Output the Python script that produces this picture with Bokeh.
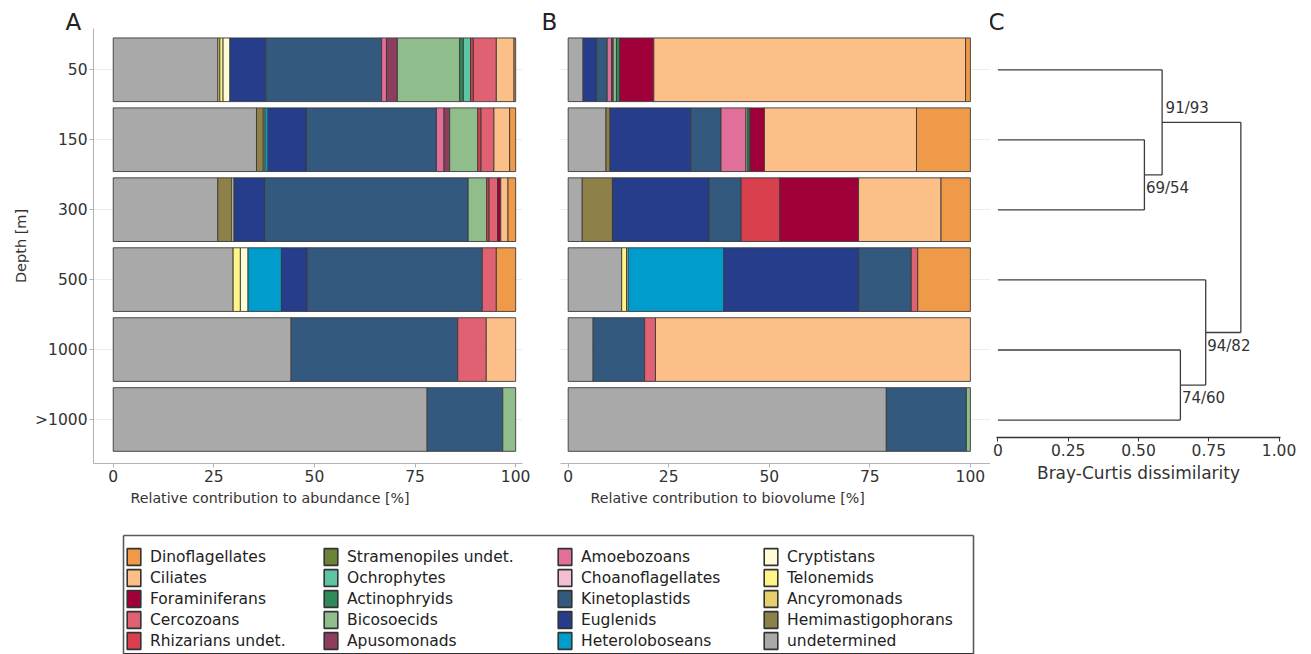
import numpy as np
from bokeh.plotting import figure
from bokeh.models import (ColumnDataSource, Range1d, FixedTicker, Legend,
                          LegendItem, LinearAxis, Grid, Title, Spacer)
from bokeh.layouts import column, row
from bokeh.embed import file_html
from bokeh.resources import INLINE
from bokeh.core.properties import value

# ---------------------------------------------------------------- data
depths = ["50", "150", "300", "500", "1000", ">1000"]

groups = ["Dinoflagellates", "Ciliates", "Foraminiferans", "Cercozoans",
          "Rhizarians undet.", "Stramenopiles undet.", "Ochrophytes",
          "Actinophryids", "Bicosoecids", "Apusomonads", "Amoebozoans",
          "Choanoflagellates", "Kinetoplastids", "Euglenids", "Heteroloboseans",
          "Cryptistans", "Telonemids", "Ancyromonads", "Hemimastigophorans",
          "undetermined"]

colors = ["#ef9a49", "#fbbf87", "#a0003a", "#e06172", "#d8404e",
          "#6b8336", "#5fc4a3", "#2e8a58", "#8fbd8b", "#8c3e5c",
          "#e0709a", "#f4bfd2", "#33597f", "#253d8a", "#009ccc",
          "#fffbd6", "#fff587", "#e7cf6d", "#8d8049", "#a9a9a9"]

# relative contribution to abundance [%], one list per depth, in `groups` order
abund_50 = [0.4, 4.4, 0, 5.7, 0.7, 0, 1.8, 0.9, 15.5, 2.7, 1.2, 0, 28.8, 8.9, 0, 1.7, 0.8, 0.5, 0, 26.0]
abund_150 = [1.5, 3.9, 0, 3.2, 0.8, 0, 0, 0, 7.0, 1.4, 1.9, 0, 32.3, 9.5, 0.8, 0, 0, 0.4, 1.7, 35.6]
abund_300 = [1.9, 1.8, 0.8, 2.1, 0.6, 0, 0, 0, 4.6, 0, 0, 0, 50.6, 7.6, 0, 0.5, 0, 0, 3.5, 26.0]
abund_500 = [4.8, 0, 0, 3.5, 0, 0, 0, 0, 0, 0, 0, 0, 43.5, 6.4, 8.3, 1.9, 1.8, 0, 0, 29.8]
abund_1000 = [0, 7.3, 0, 7.1, 0, 0, 0, 0, 0, 0, 0, 0, 41.4, 0, 0, 0, 0, 0, 0, 44.2]
abund_deep = [0, 0, 0, 0, 0, 0, 0, 0, 3.2, 0, 0, 0, 18.8, 0, 0, 0, 0, 0, 0, 78.0]

# relative contribution to biovolume [%]
biovol_50 = [1.2, 77.5, 8.5, 0, 0, 0, 0, 0.8, 0.8, 0.4, 1.1, 0, 2.7, 3.3, 0, 0, 0, 0, 0, 3.7]
biovol_150 = [13.4, 37.8, 3.6, 0, 0, 0, 0, 0.5, 0.5, 0, 6.2, 0, 7.5, 20.1, 0, 0, 0, 0, 1.0, 9.4]
biovol_300 = [7.3, 20.5, 19.6, 0, 9.6, 0, 0, 0, 0, 0, 0, 0, 8.0, 24.0, 0, 0, 0, 0, 7.5, 3.5]
biovol_500 = [13.1, 0, 0, 1.6, 0, 0, 0, 0, 0, 0, 0, 0, 13.1, 33.5, 23.8, 0.4, 1.2, 0, 0, 13.3]
biovol_1000 = [0, 78.3, 0, 2.7, 0, 0, 0, 0, 0, 0, 0, 0, 12.8, 0, 0, 0, 0, 0, 0, 6.2]
biovol_deep = [0, 0, 0, 0, 0, 0, 0, 0, 1.0, 0, 0, 0, 19.9, 0, 0, 0, 0, 0, 0, 79.1]

abundance = [abund_50, abund_150, abund_300, abund_500, abund_1000, abund_deep]
biovolume = [biovol_50, biovol_150, biovol_300, biovol_500, biovol_1000, biovol_deep]

# UPGMA clustering of depths (Bray-Curtis); children are depth names or merge indices
merge_a = ["150", "50", "1000", "500", 1]
merge_b = ["300", 0, ">1000", 2, 3]
merge_height = [0.521, 0.584, 0.649, 0.739, 0.864]
merge_support = ["69/54", "91/93", "74/60", "94/82", ""]

pct_ticks = [0, 25, 50, 75, 100]
bc_ticks = [0, 0.25, 0.5, 0.75, 1.0]
bc_tick_labels = ["0", "0.25", "0.50", "0.75", "1.00"]

# ---------------------------------------------------------------- styling
FONT = "DejaVu Sans"
TXT = "#333333"
AXIS_GREY = "#b3b3b3"
row_pos = [len(depths) - i for i in range(len(depths))]   # 50 m at top
row_labels = {y: d for y, d in zip(row_pos, depths)}
Y_RANGE = (0.371, 6.59)
TOP_H = 516


def stacked_segments(rows):
    """Left-to-right stacked segments; first legend group sits at the right end."""
    ys, lefts, rights, cols = [], [], [], []
    for y, vals in zip(row_pos, rows):
        start = 0.0
        for v, c in reversed(list(zip(vals, colors))):
            if v > 0:
                ys.append(y)
                lefts.append(start)
                rights.append(start + v)
                cols.append(c)
            start += v
    return ColumnDataSource(dict(y=ys, left=lefts, right=rights, color=cols))


def style_axis(ax, color=AXIS_GREY):
    ax.axis_line_color = color
    ax.major_tick_line_color = color
    ax.minor_tick_line_color = None
    ax.major_tick_in = 0
    ax.major_tick_out = 4
    ax.major_label_text_font = FONT
    ax.major_label_text_font_size = "15.5px"
    ax.major_label_text_color = TXT
    ax.major_label_standoff = 2
    ax.axis_label_text_font = FONT
    ax.axis_label_text_font_style = "normal"
    ax.axis_label_text_color = TXT


def panel_letter(p, letter, offset):
    p.add_layout(Title(text=letter, align="left", offset=offset, text_font=FONT,
                       text_font_size="23px", text_font_style="normal",
                       text_color="#222222", standoff=-12), "above")


def bar_panel(rows, width, left, right, x_start, x_end, with_yaxis, xlabel, xlabel_offset, letter, letter_x):
    p = figure(width=width, height=TOP_H, x_range=Range1d(x_start, x_end),
               y_range=Range1d(*Y_RANGE), output_backend="svg", toolbar_location=None,
               min_border_left=left, min_border_right=right, min_border_top=28,
               min_border_bottom=53, y_axis_location="left" if with_yaxis else None)
    p.outline_line_color = None
    p.background_fill_color = "white"
    for g in p.grid:
        g.visible = False
    p.add_layout(Grid(dimension=1, ticker=FixedTicker(ticks=row_pos),
                      grid_line_color="#ececec", grid_line_width=1))
    p.hbar(y="y", left="left", right="right", height=0.91, fill_color="color",
           line_color="#3a3a3a", line_width=0.9, source=stacked_segments(rows))
    p.xaxis.ticker = FixedTicker(ticks=pct_ticks)
    for ax in p.xaxis:
        style_axis(ax)
    if with_yaxis:
        p.yaxis.ticker = FixedTicker(ticks=row_pos)
        p.yaxis.major_label_overrides = row_labels
        for ax in p.yaxis:
            style_axis(ax)
            ax.axis_label = "Depth [m]"
            ax.axis_label_text_font_size = "14.5px"
            ax.axis_label_standoff = 3
    p.add_layout(Title(text=xlabel, align="left", offset=xlabel_offset,
                       text_font=FONT, text_font_size="14.2px", text_font_style="normal",
                       text_color=TXT, standoff=7), "below")
    panel_letter(p, letter, letter_x)
    return p


pA = bar_panel(abundance, 537, 93, 15, -4.9, 101.7, True,
               "Relative contribution to abundance [%]", 37, "A", -28)
pB = bar_panel(biovolume, 453, 23, 0, -1.91, 105.0, False,
               "Relative contribution to biovolume [%]", 30, "B", -19)

# ---------------------------------------------------------------- dendrogram
leaf_y = {d: y for d, y in zip(depths, row_pos)}
node_x, node_y = [], []
x0, y0, x1, y1 = [], [], [], []


def child_pos(c):
    if isinstance(c, str):
        return 0.0, leaf_y[c]
    return node_x[c], node_y[c]


for a, b, h in zip(merge_a, merge_b, merge_height):
    (xa, ya), (xb, yb) = child_pos(a), child_pos(b)
    x0 += [xa, xb, h]
    y0 += [ya, yb, ya]
    x1 += [h, h, h]
    y1 += [ya, yb, yb]
    node_x.append(h)
    node_y.append((ya + yb) / 2)

C_BOTTOM_GAP = 26
pC = figure(width=321, height=TOP_H - C_BOTTOM_GAP, x_range=Range1d(-0.005, 1.005),
            y_range=Range1d(0.751, 6.59), output_backend="svg", toolbar_location=None,
            min_border_left=6, min_border_right=31, min_border_top=28,
            min_border_bottom=53, y_axis_location=None)
pC.outline_line_color = None
for g in pC.grid:
    g.visible = False
pC.segment(x0=x0, y0=y0, x1=x1, y1=y1, line_color="#3c3c3c", line_width=1.3)

label_above = [False, True, False, False, False]
shown = [i for i, s in enumerate(merge_support) if s]
lab_src = ColumnDataSource(dict(
    x=[node_x[i] for i in shown],
    y=[node_y[i] for i in shown],
    text=[merge_support[i] for i in shown],
    xo=[3.5 if label_above[i] else 1.5 for i in shown],
    yo=[-5 if label_above[i] else 4 for i in shown],
    base=["bottom" if label_above[i] else "top" for i in shown],
))
pC.text(x="x", y="y", text="text", x_offset="xo", y_offset="yo", text_baseline="base",
        text_align="left", text_font=value(FONT), text_font_size="15px", text_color=TXT,
        source=lab_src)
pC.xaxis.ticker = FixedTicker(ticks=bc_ticks)
pC.xaxis.major_label_overrides = {t: s for t, s in zip(bc_ticks, bc_tick_labels)}
for ax in pC.xaxis:
    style_axis(ax, "#333333")
    ax.axis_line_width = 1.3
    ax.axis_label = "Bray-Curtis dissimilarity"
    ax.axis_label_text_font_size = "17px"
    ax.axis_label_standoff = 4
panel_letter(pC, "C", -8)
c_block = column(pC, Spacer(width=321, height=C_BOTTOM_GAP))

# ---------------------------------------------------------------- legend
pL = figure(width=1311, height=654 - TOP_H, x_range=Range1d(0, 1), y_range=Range1d(0, 1),
            output_backend="svg", toolbar_location=None, x_axis_location=None,
            y_axis_location=None, min_border_left=123, min_border_right=338,
            min_border_top=19, min_border_bottom=0)
pL.outline_line_color = None
pL.border_fill_color = "white"
for g in pL.grid:
    g.visible = False
# frame of the legend box: top, left and right edges
for side in ("above", "left", "right"):
    box_side = LinearAxis(ticker=FixedTicker(ticks=[]), axis_line_color="#5a5a5a",
                          axis_line_width=1.6, major_tick_in=0, major_tick_out=0,
                          minor_tick_in=0, minor_tick_out=0, major_label_text_font_size="0px")
    pL.add_layout(box_side, side)

# swatch renderers sit outside the visible range; they only feed the legend
swatches = [pL.hbar(y=[-10], left=[0], right=[1], height=1, fill_color=c,
                    line_color="#333333", line_width=1.6) for c in colors]
col_x = [2, 199, 433, 639]
for k, cx in enumerate(col_x):
    items = [LegendItem(label=groups[i], renderers=[swatches[i]]) for i in range(5 * k, 5 * k + 5)]
    pL.add_layout(Legend(items=items, location=(cx, 3), orientation="vertical",
                         glyph_width=17, glyph_height=21, label_height=20, spacing=0,
                         label_standoff=8, padding=0, margin=0, border_line_color=None,
                         background_fill_alpha=0, label_text_font=FONT,
                         label_text_font_size="15.5px", label_text_color="#222222"))

layout = column(row(pA, pB, c_block), pL)
open("out.html", "w").write(file_html(layout, INLINE))
